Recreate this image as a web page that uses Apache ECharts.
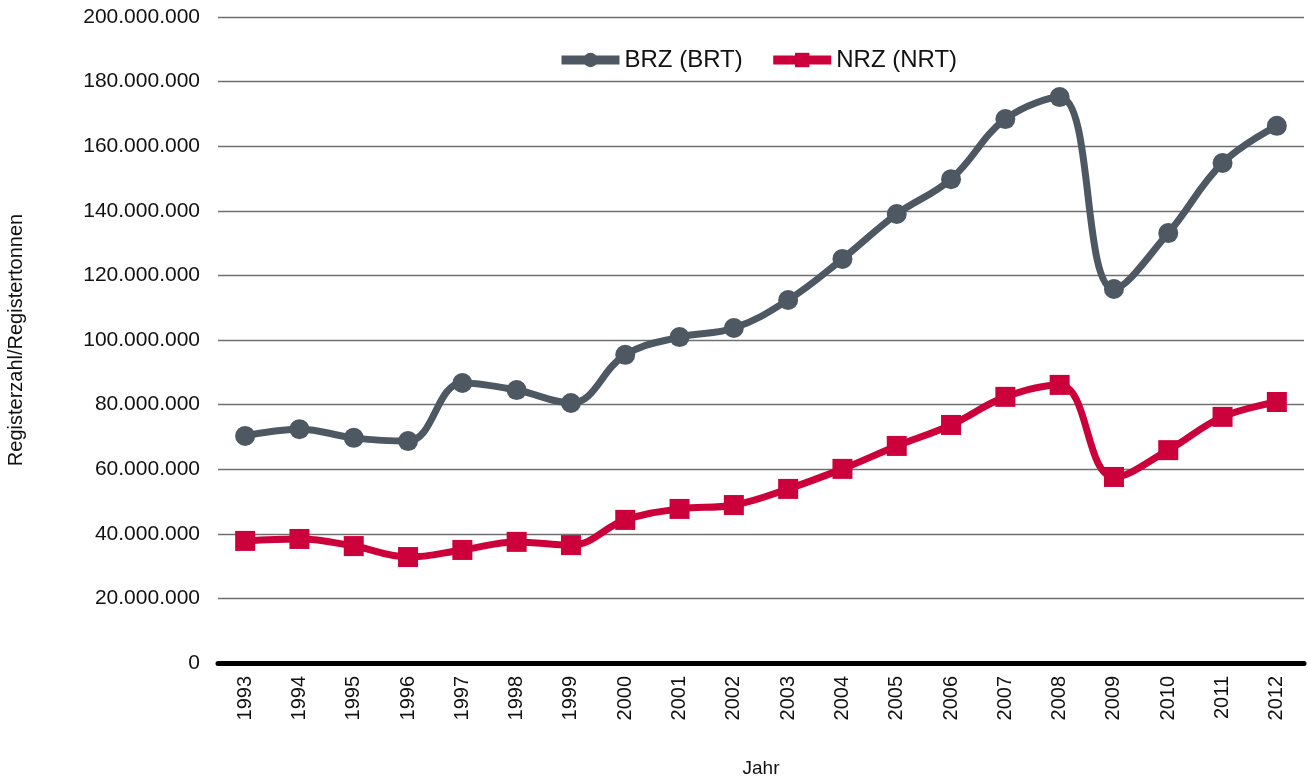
<!DOCTYPE html>
<html>
<head>
<meta charset="utf-8">
<style>
  html, body { margin: 0; padding: 0; background: #ffffff; }
  #chart { width: 1308px; height: 782px; }
</style>
<script src="https://cdn.jsdelivr.net/npm/echarts@6/dist/echarts.min.js"></script>
</head>
<body>
<div id="chart"></div>
<script>
// Jahre
var years = ['1993','1994','1995','1996','1997','1998','1999','2000','2001','2002',
             '2003','2004','2005','2006','2007','2008','2009','2010','2011','2012'];
// Bruttoraumzahl (BRT)
var brz = [70300000, 72400000, 69700000, 68700000, 86700000, 84500000, 80500000, 95400000, 100900000, 103700000,
           112400000, 125100000, 139000000, 149800000, 168400000, 175200000, 115800000, 133100000, 154800000, 166300000];
// Nettoraumzahl (NRT)
var nrz = [37800000, 38400000, 36200000, 32800000, 35000000, 37500000, 36500000, 44300000, 47700000, 48900000,
           53900000, 60100000, 67200000, 73700000, 82400000, 86100000, 57600000, 65900000, 76200000, 80800000];

var FONT = '"Liberation Sans", Arial, sans-serif';

function fmt(v) {
  return String(v).replace(/\B(?=(\d{3})+(?!\d))/g, '.');
}

var chart = echarts.init(document.getElementById('chart'));
chart.setOption({
  animation: false,
  textStyle: { fontFamily: FONT },
  legend: {
    top: 43,
    left: 552,
    itemWidth: 58,
    itemHeight: 18,
    itemGap: 26,
    textStyle: { fontSize: 24, color: '#111', fontFamily: FONT },
    lineStyle: { width: 9 },
    data: ['BRZ (BRT)', 'NRZ (NRT)']
  },
  grid: { left: 218, right: 4, top: 17, bottom: 119, outerBoundsMode: 'none' },
  xAxis: {
    type: 'category',
    data: years,
    boundaryGap: true,
    name: 'Jahr',
    nameLocation: 'middle',
    nameGap: 96,
    nameTextStyle: { fontSize: 19, color: '#111', fontFamily: FONT },
    axisLine: { show: true, lineStyle: { color: '#000', width: 5 } },
    axisTick: { show: false },
    axisLabel: { rotate: 90, fontSize: 20, color: '#111', margin: 13, fontFamily: FONT }
  },
  yAxis: {
    type: 'value',
    min: 0,
    max: 200000000,
    interval: 20000000,
    name: 'Registerzahl/Registertonnen',
    nameLocation: 'middle',
    nameGap: 192,
    nameRotate: 90,
    nameTextStyle: { fontSize: 20, color: '#111', fontFamily: FONT },
    axisLine: { show: false },
    axisTick: { show: false },
    axisLabel: { fontSize: 21, color: '#111', margin: 18, fontFamily: FONT, formatter: fmt },
    splitLine: { lineStyle: { color: '#707070', width: 1.3 } }
  },
  series: [
    {
      name: 'BRZ (BRT)',
      type: 'line',
      data: brz,
      smooth: 0.4,
      symbol: 'circle',
      symbolSize: 20,
      lineStyle: { color: '#4d5862', width: 7 },
      itemStyle: { color: '#4d5862' },
      z: 3
    },
    {
      name: 'NRZ (NRT)',
      type: 'line',
      data: nrz,
      smooth: 0.4,
      symbol: 'rect',
      symbolSize: 20,
      lineStyle: { color: '#cc003b', width: 7 },
      itemStyle: { color: '#cc003b' },
      z: 3
    }
  ]
});
</script>
</body>
</html>
